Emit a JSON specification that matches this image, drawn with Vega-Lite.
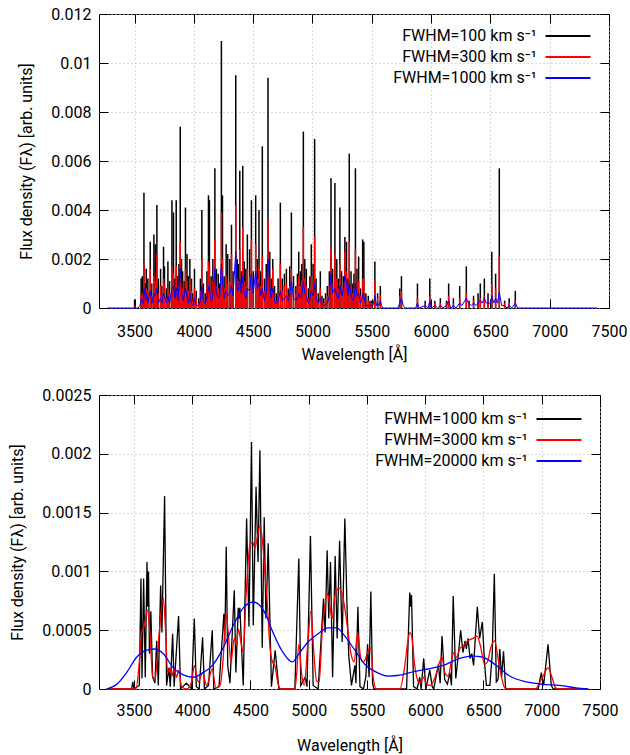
{
  "$schema": "https://vega.github.io/schema/vega-lite/v6.json",
  "padding": {"left": 9, "top": 5, "right": 22, "bottom": 0},
  "background": "white",
  "config": {
    "font": "Roboto",
    "view": {"stroke": "black", "strokeWidth": 1},
    "axis": {
      "labelFont": "Roboto", "titleFont": "Roboto", "labelFontSize": 16, "titleFontSize": 16,
      "titleFontWeight": "normal", "labelColor": "black", "titleColor": "black",
      "tickColor": "black", "tickSize": -9, "tickWidth": 1, "domain": false, "labelFlush": false,
      "gridColor": "#b4b4b4", "gridDash": [1, 3], "gridWidth": 1
    },
    "axisX": {"labelPadding": 22, "titlePadding": 8},
    "axisY": {"labelPadding": 17, "titlePadding": 16},
    "legend": {
      "title": null, "symbolType": "M-2.5,0H2.5", "symbolSize": 324,
      "symbolStrokeWidth": 2, "labelAlign": "right", "labelOffset": -41.5, "labelFontSize": 16,
      "labelFont": "Roboto", "labelColor": "black", "rowPadding": 3, "padding": 4, "labelLimit": 300
    }
  },
  "datasets": {
    "topSpikes": [
      {"wl":3500,"black":0.00035,"red":0.0001},{"wl":3555,"black":0.0012,"red":0.0005},{"wl":3565,"black":0.0013,"red":0.0006},
      {"wl":3579,"black":0.0047,"red":0.0018},{"wl":3590,"black":0.0010,"red":0.0006},{"wl":3598,"black":0.0016,"red":0.0008},
      {"wl":3612,"black":0.0012,"red":0.0007},{"wl":3632,"black":0.0027,"red":0.0016},{"wl":3645,"black":0.0010,"red":0.0005},
      {"wl":3663,"black":0.0030,"red":0.0013},{"wl":3674,"black":0.0026,"red":0.0011},{"wl":3688,"black":0.0042,"red":0.0022},
      {"wl":3700,"black":0.0012,"red":0.0006},{"wl":3719,"black":0.0016,"red":0.0009},{"wl":3730,"black":0.0009,"red":0.0005},
      {"wl":3744,"black":0.0025,"red":0.0012},{"wl":3752,"black":0.0017,"red":0.0010},{"wl":3768,"black":0.0008,"red":0.0004},
      {"wl":3781,"black":0.0019,"red":0.0008},{"wl":3795,"black":0.0011,"red":0.0006},{"wl":3815,"black":0.0044,"red":0.0017},
      {"wl":3828,"black":0.0039,"red":0.0014},{"wl":3840,"black":0.0012,"red":0.0006},{"wl":3851,"black":0.0044,"red":0.0017},
      {"wl":3862,"black":0.0013,"red":0.0007},{"wl":3874,"black":0.0018,"red":0.0009},{"wl":3885,"black":0.0074,"red":0.0027},
      {"wl":3896,"black":0.0020,"red":0.0010},{"wl":3905,"black":0.0015,"red":0.0008},{"wl":3918,"black":0.0011,"red":0.0006},
      {"wl":3929,"black":0.0041,"red":0.0016},{"wl":3942,"black":0.0022,"red":0.0011},{"wl":3953,"black":0.0013,"red":0.0007},
      {"wl":3966,"black":0.0020,"red":0.0012},{"wl":3980,"black":0.0012,"red":0.0007},{"wl":3990,"black":0.0006,"red":0.0003},
      {"wl":4005,"black":0.0016,"red":0.0008},{"wl":4020,"black":0.0007,"red":0.0004},{"wl":4040,"black":0.0004,"red":0.0002},
      {"wl":4055,"black":0.0012,"red":0.0007},{"wl":4067,"black":0.0040,"red":0.0020},{"wl":4080,"black":0.0010,"red":0.0006},
      {"wl":4095,"black":0.0006,"red":0.0003},{"wl":4110,"black":0.0015,"red":0.0009},{"wl":4123,"black":0.0046,"red":0.0019},
      {"wl":4131,"black":0.0044,"red":0.0017},{"wl":4145,"black":0.0013,"red":0.0007},{"wl":4160,"black":0.0020,"red":0.0011},
      {"wl":4177,"black":0.0057,"red":0.0028},{"wl":4190,"black":0.0016,"red":0.0009},{"wl":4205,"black":0.0014,"red":0.0008},
      {"wl":4218,"black":0.0010,"red":0.0006},{"wl":4232,"black":0.0109,"red":0.0039},{"wl":4241,"black":0.0046,"red":0.0020},
      {"wl":4255,"black":0.0013,"red":0.0008},{"wl":4272,"black":0.0026,"red":0.0013},{"wl":4285,"black":0.0022,"red":0.0010},
      {"wl":4303,"black":0.0020,"red":0.0011},{"wl":4317,"black":0.0034,"red":0.0022},{"wl":4330,"black":0.0015,"red":0.0010},
      {"wl":4353,"black":0.0095,"red":0.0042},{"wl":4365,"black":0.0020,"red":0.0012},{"wl":4375,"black":0.0018,"red":0.0011},
      {"wl":4387,"black":0.0056,"red":0.0024},{"wl":4400,"black":0.0015,"red":0.0010},{"wl":4412,"black":0.0058,"red":0.0033},
      {"wl":4425,"black":0.0019,"red":0.0011},{"wl":4438,"black":0.0016,"red":0.0009},{"wl":4451,"black":0.0030,"red":0.0016},
      {"wl":4470,"black":0.0024,"red":0.0013},{"wl":4485,"black":0.0044,"red":0.0028},{"wl":4500,"black":0.0015,"red":0.0009},
      {"wl":4521,"black":0.0046,"red":0.0026},{"wl":4535,"black":0.0020,"red":0.0012},{"wl":4549,"black":0.0040,"red":0.0017},
      {"wl":4563,"black":0.0015,"red":0.0009},{"wl":4577,"black":0.0066,"red":0.0021},{"wl":4595,"black":0.0012,"red":0.0007},
      {"wl":4610,"black":0.0018,"red":0.0011},{"wl":4625,"black":0.0094,"red":0.0036},{"wl":4640,"black":0.0023,"red":0.0013},
      {"wl":4652,"black":0.0012,"red":0.0007},{"wl":4665,"black":0.0020,"red":0.0016},{"wl":4680,"black":0.0009,"red":0.0006},
      {"wl":4695,"black":0.0006,"red":0.0003},{"wl":4710,"black":0.0012,"red":0.0006},{"wl":4729,"black":0.0043,"red":0.0018},
      {"wl":4745,"black":0.0012,"red":0.0007},{"wl":4763,"black":0.0014,"red":0.0009},{"wl":4780,"black":0.0016,"red":0.0010},
      {"wl":4795,"black":0.0008,"red":0.0005},{"wl":4808,"black":0.0017,"red":0.0009},{"wl":4822,"black":0.0039,"red":0.0016},
      {"wl":4840,"black":0.0013,"red":0.0008},{"wl":4860,"black":0.0009,"red":0.0006},{"wl":4873,"black":0.0014,"red":0.0009},
      {"wl":4884,"black":0.0023,"red":0.0013},{"wl":4898,"black":0.0015,"red":0.0009},{"wl":4910,"black":0.0018,"red":0.0011},
      {"wl":4923,"black":0.0072,"red":0.0033},{"wl":4935,"black":0.0020,"red":0.0012},{"wl":4948,"black":0.0016,"red":0.0009},
      {"wl":4965,"black":0.0008,"red":0.0004},{"wl":4978,"black":0.0013,"red":0.0008},{"wl":4990,"black":0.0026,"red":0.0013},
      {"wl":5005,"black":0.0018,"red":0.0010},{"wl":5018,"black":0.0069,"red":0.0029},{"wl":5030,"black":0.0012,"red":0.0007},
      {"wl":5048,"black":0.0006,"red":0.0003},{"wl":5066,"black":0.0015,"red":0.0008},{"wl":5080,"black":0.0005,"red":0.0003},
      {"wl":5095,"black":0.0004,"red":0.0002},{"wl":5110,"black":0.0006,"red":0.0004},{"wl":5125,"black":0.0009,"red":0.0005},
      {"wl":5142,"black":0.0015,"red":0.0009},{"wl":5156,"black":0.0053,"red":0.0025},{"wl":5170,"black":0.0016,"red":0.0010},
      {"wl":5189,"black":0.0051,"red":0.0022},{"wl":5205,"black":0.0020,"red":0.0012},{"wl":5218,"black":0.0012,"red":0.0008},
      {"wl":5231,"black":0.0041,"red":0.0018},{"wl":5245,"black":0.0015,"red":0.0009},{"wl":5260,"black":0.0013,"red":0.0008},
      {"wl":5273,"black":0.0029,"red":0.0023},{"wl":5287,"black":0.0027,"red":0.0015},{"wl":5298,"black":0.0012,"red":0.0008},
      {"wl":5310,"black":0.0063,"red":0.0027},{"wl":5325,"black":0.0015,"red":0.0009},{"wl":5340,"black":0.0010,"red":0.0006},
      {"wl":5350,"black":0.0014,"red":0.0008},{"wl":5362,"black":0.0057,"red":0.0024},{"wl":5375,"black":0.0016,"red":0.0010},
      {"wl":5389,"black":0.0021,"red":0.0011},{"wl":5405,"black":0.0008,"red":0.0005},{"wl":5423,"black":0.0028,"red":0.0012},
      {"wl":5433,"black":0.0027,"red":0.0012},{"wl":5450,"black":0.0006,"red":0.0003},{"wl":5470,"black":0.0005,"red":0.0003},
      {"wl":5485,"black":0.0003,"red":0.0002},{"wl":5500,"black":0.0003,"red":0.0002},{"wl":5526,"black":0.0019,"red":0.0011},
      {"wl":5549,"black":0.0006,"red":0.0004},{"wl":5572,"black":0.0009,"red":0.0005},{"wl":5736,"black":0.0008,"red":0.0005},
      {"wl":5750,"black":0.0013,"red":0.0007},{"wl":5885,"black":0.0010,"red":0.0004},{"wl":5950,"black":0.0003,"red":0.0002},
      {"wl":5989,"black":0.0012,"red":0.0005},{"wl":6031,"black":0.0003,"red":0.0002},{"wl":6078,"black":0.0004,"red":0.0002},
      {"wl":6130,"black":0.0003,"red":0.0002},{"wl":6148,"black":0.0010,"red":0.0005},{"wl":6188,"black":0.0004,"red":0.0002},
      {"wl":6241,"black":0.0009,"red":0.0004},{"wl":6297,"black":0.0017,"red":0.0006},{"wl":6320,"black":0.0003,"red":0.0002},
      {"wl":6358,"black":0.0005,"red":0.0003},{"wl":6396,"black":0.0006,"red":0.0003},{"wl":6415,"black":0.0010,"red":0.0004},
      {"wl":6449,"black":0.0012,"red":0.0005},{"wl":6480,"black":0.0006,"red":0.0003},{"wl":6512,"black":0.0023,"red":0.0010},
      {"wl":6544,"black":0.0014,"red":0.0008},{"wl":6575,"black":0.0057,"red":0.0021},{"wl":6620,"black":0.0003,"red":0.0002},
      {"wl":6658,"black":0.0004,"red":0.0002},{"wl":6710,"black":0.0007,"red":0.0003}
    ],
    "topBlue": [
      {"wl":3270,"flux":0},{"wl":3530,"flux":0},{"wl":3545,"flux":0.0001},{"wl":3560,"flux":0.0004},{"wl":3572,"flux":0.0002},
      {"wl":3580,"flux":0.0008},{"wl":3592,"flux":0.0003},{"wl":3600,"flux":0.0006},{"wl":3612,"flux":0.0002},{"wl":3632,"flux":0.0007},
      {"wl":3645,"flux":0.0002},{"wl":3663,"flux":0.0006},{"wl":3675,"flux":0.0005},{"wl":3688,"flux":0.0008},{"wl":3700,"flux":0.0002},
      {"wl":3719,"flux":0.0004},{"wl":3730,"flux":0.0002},{"wl":3744,"flux":0.0006},{"wl":3752,"flux":0.0005},{"wl":3768,"flux":0.0002},
      {"wl":3781,"flux":0.0005},{"wl":3795,"flux":0.0002},{"wl":3815,"flux":0.0008},{"wl":3828,"flux":0.0009},{"wl":3840,"flux":0.0004},
      {"wl":3851,"flux":0.0008},{"wl":3865,"flux":0.0003},{"wl":3885,"flux":0.0016},{"wl":3898,"flux":0.0006},{"wl":3910,"flux":0.0003},
      {"wl":3929,"flux":0.0008},{"wl":3942,"flux":0.0005},{"wl":3955,"flux":0.0002},{"wl":3966,"flux":0.0006},{"wl":3980,"flux":0.0002},
      {"wl":3992,"flux":0.0001},{"wl":4005,"flux":0.0004},{"wl":4020,"flux":0.0001},{"wl":4040,"flux":0.0001},{"wl":4055,"flux":0.0003},
      {"wl":4067,"flux":0.0009},{"wl":4080,"flux":0.0003},{"wl":4095,"flux":0.0002},{"wl":4110,"flux":0.0004},{"wl":4125,"flux":0.0009},
      {"wl":4138,"flux":0.0005},{"wl":4150,"flux":0.0003},{"wl":4160,"flux":0.0005},{"wl":4177,"flux":0.0016},{"wl":4190,"flux":0.0006},
      {"wl":4205,"flux":0.0004},{"wl":4218,"flux":0.0005},{"wl":4232,"flux":0.0018},{"wl":4243,"flux":0.0010},{"wl":4255,"flux":0.0004},
      {"wl":4272,"flux":0.0007},{"wl":4285,"flux":0.0005},{"wl":4303,"flux":0.0006},{"wl":4317,"flux":0.0009},{"wl":4330,"flux":0.0005},
      {"wl":4353,"flux":0.0023},{"wl":4365,"flux":0.0008},{"wl":4375,"flux":0.0007},{"wl":4387,"flux":0.0012},{"wl":4400,"flux":0.0006},
      {"wl":4412,"flux":0.0013},{"wl":4425,"flux":0.0006},{"wl":4438,"flux":0.0004},{"wl":4451,"flux":0.0008},{"wl":4470,"flux":0.0007},
      {"wl":4485,"flux":0.0014},{"wl":4500,"flux":0.0006},{"wl":4521,"flux":0.0015},{"wl":4535,"flux":0.0008},{"wl":4549,"flux":0.0010},
      {"wl":4563,"flux":0.0005},{"wl":4577,"flux":0.0008},{"wl":4595,"flux":0.0003},{"wl":4610,"flux":0.0006},{"wl":4625,"flux":0.0020},
      {"wl":4640,"flux":0.0009},{"wl":4652,"flux":0.0004},{"wl":4665,"flux":0.0008},{"wl":4685,"flux":0.0002},{"wl":4700,"flux":0.0002},
      {"wl":4710,"flux":0.0003},{"wl":4729,"flux":0.0007},{"wl":4745,"flux":0.0003},{"wl":4763,"flux":0.0004},{"wl":4780,"flux":0.0005},
      {"wl":4795,"flux":0.0003},{"wl":4808,"flux":0.0005},{"wl":4822,"flux":0.0011},{"wl":4840,"flux":0.0004},{"wl":4860,"flux":0.0003},
      {"wl":4873,"flux":0.0004},{"wl":4884,"flux":0.0006},{"wl":4898,"flux":0.0004},{"wl":4910,"flux":0.0005},{"wl":4923,"flux":0.0011},
      {"wl":4935,"flux":0.0006},{"wl":4948,"flux":0.0005},{"wl":4965,"flux":0.0002},{"wl":4978,"flux":0.0004},{"wl":4990,"flux":0.0007},
      {"wl":5005,"flux":0.0005},{"wl":5018,"flux":0.0010},{"wl":5030,"flux":0.0004},{"wl":5048,"flux":0.0002},{"wl":5066,"flux":0.0004},
      {"wl":5080,"flux":0.0001},{"wl":5100,"flux":0.0001},{"wl":5125,"flux":0.0002},{"wl":5142,"flux":0.0005},{"wl":5156,"flux":0.0014},
      {"wl":5170,"flux":0.0006},{"wl":5189,"flux":0.0008},{"wl":5205,"flux":0.0005},{"wl":5218,"flux":0.0004},{"wl":5231,"flux":0.0009},
      {"wl":5250,"flux":0.0005},{"wl":5273,"flux":0.0013},{"wl":5287,"flux":0.0010},{"wl":5298,"flux":0.0005},{"wl":5310,"flux":0.0010},
      {"wl":5325,"flux":0.0005},{"wl":5340,"flux":0.0003},{"wl":5350,"flux":0.0004},{"wl":5362,"flux":0.0010},{"wl":5375,"flux":0.0005},
      {"wl":5389,"flux":0.0006},{"wl":5405,"flux":0.0002},{"wl":5428,"flux":0.0006},{"wl":5450,"flux":0.0001},{"wl":5470,"flux":0.0001},
      {"wl":5490,"flux":0.0001},{"wl":5510,"flux":0.0001},{"wl":5526,"flux":0.0005},{"wl":5540,"flux":0.0001},{"wl":5549,"flux":0.0002},
      {"wl":5560,"flux":0.0001},{"wl":5572,"flux":0.0003},{"wl":5590,"flux":0},{"wl":5720,"flux":0},{"wl":5736,"flux":0.0002},
      {"wl":5750,"flux":0.0004},{"wl":5765,"flux":0.0001},{"wl":5780,"flux":0},{"wl":5870,"flux":0},{"wl":5885,"flux":0.0002},
      {"wl":5900,"flux":0},{"wl":5950,"flux":0.0001},{"wl":5975,"flux":0},{"wl":5989,"flux":0.0003},{"wl":6005,"flux":0},
      {"wl":6031,"flux":0.0001},{"wl":6055,"flux":0},{"wl":6078,"flux":0.0001},{"wl":6100,"flux":0},{"wl":6130,"flux":0.0001},
      {"wl":6148,"flux":0.0003},{"wl":6165,"flux":0},{"wl":6188,"flux":0.0001},{"wl":6210,"flux":0},{"wl":6241,"flux":0.0002},
      {"wl":6260,"flux":0.0001},{"wl":6297,"flux":0.0004},{"wl":6315,"flux":0.0002},{"wl":6340,"flux":0.0001},{"wl":6358,"flux":0.0002},
      {"wl":6380,"flux":0.0001},{"wl":6396,"flux":0.0002},{"wl":6415,"flux":0.0003},{"wl":6430,"flux":0.0002},{"wl":6449,"flux":0.0004},
      {"wl":6465,"flux":0.0002},{"wl":6480,"flux":0.0002},{"wl":6500,"flux":0.0002},{"wl":6512,"flux":0.0005},{"wl":6528,"flux":0.0002},
      {"wl":6544,"flux":0.0004},{"wl":6560,"flux":0.0002},{"wl":6575,"flux":0.00065},{"wl":6595,"flux":0.0001},{"wl":6620,"flux":0.0001},
      {"wl":6640,"flux":0},{"wl":6658,"flux":0.0001},{"wl":6680,"flux":0},{"wl":6710,"flux":0.0002},{"wl":6730,"flux":0},{"wl":7400,"flux":0}
    ],
    "botBlack": [
      {"wl":3266,"flux":0},{"wl":3480,"flux":0},{"wl":3490,"flux":0.00006},{"wl":3500,"flux":0},{"wl":3546,"flux":0.00003},
      {"wl":3560,"flux":0.00094},{"wl":3569,"flux":0.00009},{"wl":3583,"flux":0.00094},{"wl":3597,"flux":0.0001},{"wl":3612,"flux":0.00108},
      {"wl":3618,"flux":0.0007},{"wl":3625,"flux":0.001},{"wl":3633,"flux":0.0003},{"wl":3645,"flux":0.00066},{"wl":3660,"flux":0.0001},
      {"wl":3680,"flux":0.00005},{"wl":3695,"flux":0.00041},{"wl":3709,"flux":0.00003},{"wl":3729,"flux":0.00088},{"wl":3740,"flux":0.00048},
      {"wl":3763,"flux":0.00164},{"wl":3780,"flux":0.00003},{"wl":3800,"flux":0.00018},{"wl":3812,"flux":0.00002},{"wl":3832,"flux":0.00047},
      {"wl":3845,"flux":0.00002},{"wl":3883,"flux":0.00062},{"wl":3900,"flux":0},{"wl":3950,"flux":0.00005},{"wl":3995,"flux":0},
      {"wl":4018,"flux":0.0006},{"wl":4035,"flux":0.00002},{"wl":4060,"flux":0},{"wl":4089,"flux":0.00044},{"wl":4105,"flux":0},
      {"wl":4140,"flux":0.00003},{"wl":4172,"flux":0.0005},{"wl":4185,"flux":0},{"wl":4230,"flux":0.00002},{"wl":4272,"flux":0.00064},
      {"wl":4280,"flux":0.0004},{"wl":4292,"flux":0.00121},{"wl":4305,"flux":0.0002},{"wl":4324,"flux":0.00005},{"wl":4361,"flux":0.00084},
      {"wl":4375,"flux":0.00014},{"wl":4395,"flux":0.00069},{"wl":4402,"flux":0.0006},{"wl":4409,"flux":0.00069},{"wl":4438,"flux":0.00003},
      {"wl":4467,"flux":0.00145},{"wl":4487,"flux":0.00053},{"wl":4509,"flux":0.0021},{"wl":4524,"flux":0.00054},{"wl":4548,"flux":0.00172},
      {"wl":4565,"flux":0.00108},{"wl":4581,"flux":0.00203},{"wl":4601,"flux":0.00035},{"wl":4618,"flux":0.00146},{"wl":4633,"flux":0.0006},
      {"wl":4652,"flux":0.00124},{"wl":4680,"flux":0.00002},{"wl":4712,"flux":0.00033},{"wl":4744,"flux":0},{"wl":4881,"flux":0},
      {"wl":4915,"flux":0.00111},{"wl":4932,"flux":0.00003},{"wl":4970,"flux":0.0001},{"wl":4985,"flux":0.00002},{"wl":5015,"flux":0.0013},
      {"wl":5038,"flux":0.00003},{"wl":5081,"flux":0},{"wl":5127,"flux":0.00077},{"wl":5141,"flux":0.00048},{"wl":5158,"flux":0.00118},
      {"wl":5172,"flux":0.0006},{"wl":5187,"flux":0.00108},{"wl":5205,"flux":0.0001},{"wl":5227,"flux":0.00113},{"wl":5244,"flux":0.00043},
      {"wl":5265,"flux":0.00126},{"wl":5287,"flux":0.0004},{"wl":5310,"flux":0.00145},{"wl":5330,"flux":0.00065},{"wl":5344,"flux":0.00028},
      {"wl":5367,"flux":0.00003},{"wl":5396,"flux":0.0002},{"wl":5405,"flux":0.00005},{"wl":5422,"flux":0.0007},{"wl":5440,"flux":0.00002},
      {"wl":5470,"flux":0},{"wl":5490,"flux":0.0001},{"wl":5505,"flux":0.00038},{"wl":5518,"flux":0.0001},{"wl":5533,"flux":0.00083},
      {"wl":5548,"flux":0.00005},{"wl":5560,"flux":0},{"wl":5840,"flux":0},{"wl":5867,"flux":0.00082},{"wl":5874,"flux":0.0007},
      {"wl":5882,"flux":0.0008},{"wl":5900,"flux":0.00002},{"wl":5930,"flux":0},{"wl":5953,"flux":0.0001},{"wl":5965,"flux":0},
      {"wl":5987,"flux":0.00026},{"wl":6005,"flux":0},{"wl":6039,"flux":0.00016},{"wl":6060,"flux":0.00002},{"wl":6073,"flux":0},
      {"wl":6113,"flux":0.00021},{"wl":6128,"flux":0.00005},{"wl":6144,"flux":0.00045},{"wl":6167,"flux":0.00008},{"wl":6190,"flux":0.00004},
      {"wl":6212,"flux":0.00014},{"wl":6225,"flux":0.00003},{"wl":6240,"flux":0.00079},{"wl":6262,"flux":0.00009},{"wl":6285,"flux":0.0003},
      {"wl":6304,"flux":0.0005},{"wl":6324,"flux":0.00031},{"wl":6342,"flux":0.00041},{"wl":6353,"flux":0.00034},{"wl":6367,"flux":0.00043},
      {"wl":6385,"flux":0.00026},{"wl":6400,"flux":0.0003},{"wl":6415,"flux":0.0002},{"wl":6447,"flux":0.0007},{"wl":6467,"flux":0.00043},
      {"wl":6490,"flux":0.00057},{"wl":6510,"flux":0.00021},{"wl":6525,"flux":0.00003},{"wl":6555,"flux":0.00003},{"wl":6575,"flux":0.0003},
      {"wl":6593,"flux":0.00098},{"wl":6610,"flux":0.00006},{"wl":6625,"flux":0.00008},{"wl":6640,"flux":0.00034},{"wl":6655,"flux":0.0001},
      {"wl":6672,"flux":0.00032},{"wl":6690,"flux":0},{"wl":6970,"flux":0},{"wl":6982,"flux":0.00007},{"wl":6996,"flux":0.00014},
      {"wl":7016,"flux":0.00003},{"wl":7054,"flux":0.00038},{"wl":7082,"flux":0.00003},{"wl":7100,"flux":0},{"wl":7400,"flux":0}
    ],
    "botRed": [
      {"wl":3266,"flux":0},{"wl":3517,"flux":0},{"wl":3546,"flux":0.00023},{"wl":3566,"flux":0.00048},{"wl":3589,"flux":0.00054},
      {"wl":3615,"flux":0.00067},{"wl":3637,"flux":0.00048},{"wl":3660,"flux":0.00011},{"wl":3680,"flux":0.00008},{"wl":3700,"flux":0.00026},
      {"wl":3717,"flux":0.00048},{"wl":3752,"flux":0.00077},{"wl":3772,"flux":0.00048},{"wl":3789,"flux":0.00014},{"wl":3809,"flux":0.00018},
      {"wl":3826,"flux":0.00011},{"wl":3843,"flux":0.00017},{"wl":3866,"flux":0.0001},{"wl":3883,"flux":0.00016},{"wl":3909,"flux":0.00002},
      {"wl":3952,"flux":0},{"wl":3995,"flux":0.00006},{"wl":4018,"flux":0.0002},{"wl":4052,"flux":0.00006},{"wl":4089,"flux":0.00014},
      {"wl":4124,"flux":0.00003},{"wl":4172,"flux":0.00017},{"wl":4203,"flux":0.00001},{"wl":4238,"flux":0.00003},{"wl":4266,"flux":0.00026},
      {"wl":4289,"flux":0.00064},{"wl":4309,"flux":0.00048},{"wl":4332,"flux":0.00023},{"wl":4361,"flux":0.00043},{"wl":4381,"flux":0.00037},
      {"wl":4395,"flux":0.00051},{"wl":4418,"flux":0.0004},{"wl":4438,"flux":0.00031},{"wl":4461,"flux":0.00077},{"wl":4495,"flux":0.00122},
      {"wl":4518,"flux":0.00125},{"wl":4538,"flux":0.0012},{"wl":4561,"flux":0.0013},{"wl":4581,"flux":0.00139},{"wl":4601,"flux":0.00128},
      {"wl":4624,"flux":0.00099},{"wl":4646,"flux":0.00071},{"wl":4666,"flux":0.00037},{"wl":4689,"flux":0.00023},{"wl":4709,"flux":0.0002},
      {"wl":4738,"flux":0.00004},{"wl":4761,"flux":0},{"wl":4881,"flux":0},{"wl":4895,"flux":0.00011},{"wl":4915,"flux":0.00038},
      {"wl":4938,"flux":0.00014},{"wl":4961,"flux":0.00003},{"wl":4995,"flux":0.00043},{"wl":5018,"flux":0.00066},{"wl":5044,"flux":0.00031},
      {"wl":5067,"flux":0.00007},{"wl":5090,"flux":0.00006},{"wl":5115,"flux":0.00048},{"wl":5138,"flux":0.00071},{"wl":5161,"flux":0.00081},
      {"wl":5181,"flux":0.00071},{"wl":5201,"flux":0.0006},{"wl":5224,"flux":0.00079},{"wl":5261,"flux":0.00086},{"wl":5295,"flux":0.00077},
      {"wl":5315,"flux":0.00065},{"wl":5338,"flux":0.00048},{"wl":5361,"flux":0.00031},{"wl":5390,"flux":0.00023},{"wl":5420,"flux":0.00048},
      {"wl":5447,"flux":0.00026},{"wl":5470,"flux":0.00023},{"wl":5496,"flux":0.00028},{"wl":5516,"flux":0.00034},{"wl":5533,"flux":0.00035},
      {"wl":5553,"flux":0.0001},{"wl":5581,"flux":0},{"wl":5782,"flux":0},{"wl":5825,"flux":0.0002},{"wl":5850,"flux":0.0004},
      {"wl":5867,"flux":0.00048},{"wl":5882,"flux":0.00046},{"wl":5910,"flux":0.0002},{"wl":5933,"flux":0.00008},{"wl":5953,"flux":0.00005},
      {"wl":5987,"flux":0.0001},{"wl":6010,"flux":0.00004},{"wl":6039,"flux":0.00003},{"wl":6081,"flux":0.00009},{"wl":6124,"flux":0.00023},
      {"wl":6144,"flux":0.00027},{"wl":6167,"flux":0.00014},{"wl":6196,"flux":0.00011},{"wl":6224,"flux":0.00023},{"wl":6244,"flux":0.00031},
      {"wl":6267,"flux":0.00027},{"wl":6296,"flux":0.00034},{"wl":6330,"flux":0.00037},{"wl":6367,"flux":0.00041},{"wl":6410,"flux":0.00043},
      {"wl":6445,"flux":0.00045},{"wl":6473,"flux":0.00037},{"wl":6510,"flux":0.00021},{"wl":6533,"flux":0.00023},{"wl":6568,"flux":0.00037},
      {"wl":6596,"flux":0.00041},{"wl":6625,"flux":0.00026},{"wl":6653,"flux":0.00011},{"wl":6682,"flux":0.00001},{"wl":6700,"flux":0},
      {"wl":6950,"flux":0},{"wl":6968,"flux":0.00003},{"wl":7011,"flux":0.00011},{"wl":7054,"flux":0.00018},{"wl":7091,"flux":0.00009},
      {"wl":7119,"flux":0.00001},{"wl":7140,"flux":0},{"wl":7400,"flux":0}
    ],
    "botBlue": [
      {"wl":3266,"flux":0},{"wl":3352,"flux":0.00004},{"wl":3437,"flux":0.00014},{"wl":3523,"flux":0.00027},{"wl":3609,"flux":0.00033},
      {"wl":3680,"flux":0.00034},{"wl":3752,"flux":0.0003},{"wl":3838,"flux":0.00018},{"wl":3923,"flux":0.00012},{"wl":4009,"flux":0.0001},
      {"wl":4095,"flux":0.00014},{"wl":4181,"flux":0.00021},{"wl":4266,"flux":0.00035},{"wl":4352,"flux":0.00054},{"wl":4438,"flux":0.00069},
      {"wl":4524,"flux":0.00074},{"wl":4581,"flux":0.00071},{"wl":4638,"flux":0.00062},{"wl":4681,"flux":0.00051},{"wl":4767,"flux":0.00033},
      {"wl":4860,"flux":0.00023},{"wl":4909,"flux":0.00029},{"wl":4995,"flux":0.0004},{"wl":5081,"flux":0.00047},{"wl":5167,"flux":0.00052},
      {"wl":5238,"flux":0.00052},{"wl":5310,"flux":0.00045},{"wl":5396,"flux":0.00033},{"wl":5481,"flux":0.00021},{"wl":5567,"flux":0.00015},
      {"wl":5681,"flux":0.00011},{"wl":5796,"flux":0.00012},{"wl":5910,"flux":0.00015},{"wl":6025,"flux":0.00017},{"wl":6153,"flux":0.0002},
      {"wl":6296,"flux":0.00026},{"wl":6410,"flux":0.00028},{"wl":6496,"flux":0.00027},{"wl":6610,"flux":0.0002},{"wl":6725,"flux":0.00011},
      {"wl":6868,"flux":0.00006},{"wl":7011,"flux":0.00004},{"wl":7154,"flux":0.00003},{"wl":7297,"flux":0.00001},{"wl":7390,"flux":0}
    ]
  },
  "concat": [
    {
      "width": 510, "height": 294,
      "layer": [
        {
          "data": {"name": "topSpikes"},
          "mark": {"type": "rule", "strokeWidth": 1.5},
          "encoding": {
            "x": {"field": "wl", "type": "quantitative", "scale": {"domain": [3200, 7500], "nice": false},
                  "axis": {"values": [3500, 4000, 4500, 5000, 5500, 6000, 6500, 7000, 7500], "format": "d", "title": "Wavelength [Å]", "grid": true, "labelPadding": 24, "titlePadding": 7}},
            "y": {"field": "black", "type": "quantitative", "scale": {"domain": [0, 0.012], "nice": false},
                  "axis": {"values": [0, 0.002, 0.004, 0.006, 0.008, 0.01, 0.012], "format": "~g", "title": "Flux density (Fλ) [arb. units]", "grid": true}},
            "y2": {"datum": 0},
            "color": {"datum": "FWHM=100 km s⁻¹", "type": "nominal",
                      "scale": {"domain": ["FWHM=100 km s⁻¹", "FWHM=300 km s⁻¹", "FWHM=1000 km s⁻¹"], "range": ["black", "red", "blue"]},
                      "legend": {"orient": "none", "legendX": 455, "legendY": 8}}
          }
        },
        {
          "data": {"name": "topSpikes"},
          "mark": {"type": "rule", "strokeWidth": 1.5},
          "encoding": {
            "x": {"field": "wl", "type": "quantitative", "axis": null},
            "y": {"field": "red", "type": "quantitative", "axis": null},
            "y2": {"datum": 0},
            "color": {"datum": "FWHM=300 km s⁻¹", "type": "nominal"}
          }
        },
        {
          "data": {"name": "topBlue"},
          "mark": {"type": "line", "strokeWidth": 1},
          "encoding": {
            "x": {"field": "wl", "type": "quantitative",
                  "axis": {"orient": "top", "labels": false, "title": null, "grid": false, "minExtent": 0, "values": [3500, 4000, 4500, 5000, 5500, 6000, 6500, 7000, 7500]}},
            "y": {"field": "flux", "type": "quantitative",
                  "axis": {"orient": "right", "labels": false, "title": null, "grid": false, "minExtent": 0, "values": [0, 0.002, 0.004, 0.006, 0.008, 0.01, 0.012]}},
            "color": {"datum": "FWHM=1000 km s⁻¹", "type": "nominal"}
          }
        }
      ],
      "resolve": {"axis": {"x": "independent", "y": "independent"}}
    },
    {
      "width": 501, "height": 294,
      "layer": [
        {
          "data": {"name": "botBlack"},
          "mark": {"type": "line", "strokeWidth": 1.3},
          "encoding": {
            "x": {"field": "wl", "type": "quantitative", "scale": {"domain": [3200, 7500], "nice": false},
                  "axis": {"values": [3500, 4000, 4500, 5000, 5500, 6000, 6500, 7000, 7500], "format": "d", "title": "Wavelength [Å]", "grid": true, "titlePadding": 19}},
            "y": {"field": "flux", "type": "quantitative", "scale": {"domain": [0, 0.0025], "nice": false},
                  "axis": {"values": [0, 0.0005, 0.001, 0.0015, 0.002, 0.0025], "format": "~g", "title": "Flux density (Fλ) [arb. units]", "grid": true}},
            "color": {"datum": "FWHM=1000 km s⁻¹", "type": "nominal",
                      "scale": {"domain": ["FWHM=1000 km s⁻¹", "FWHM=3000 km s⁻¹", "FWHM=20000 km s⁻¹"], "range": ["black", "red", "blue"]},
                      "legend": {"orient": "none", "legendX": 446, "legendY": 10}}
          }
        },
        {
          "data": {"name": "botRed"},
          "mark": {"type": "line", "strokeWidth": 1.3, "interpolate": "monotone"},
          "encoding": {
            "x": {"field": "wl", "type": "quantitative", "axis": null},
            "y": {"field": "flux", "type": "quantitative", "axis": null},
            "color": {"datum": "FWHM=3000 km s⁻¹", "type": "nominal"}
          }
        },
        {
          "data": {"name": "botBlue"},
          "mark": {"type": "line", "strokeWidth": 1.3, "interpolate": "monotone"},
          "encoding": {
            "x": {"field": "wl", "type": "quantitative",
                  "axis": {"orient": "top", "labels": false, "title": null, "grid": false, "minExtent": 0, "values": [3500, 4000, 4500, 5000, 5500, 6000, 6500, 7000, 7500]}},
            "y": {"field": "flux", "type": "quantitative",
                  "axis": {"orient": "right", "labels": false, "title": null, "grid": false, "minExtent": 0, "values": [0, 0.0005, 0.001, 0.0015, 0.002, 0.0025]}},
            "color": {"datum": "FWHM=20000 km s⁻¹", "type": "nominal"}
          }
        }
      ],
      "resolve": {"axis": {"x": "independent", "y": "independent"}}
    }
  ],
  "columns": 1,
  "align": "none",
  "spacing": 23,
  "resolve": {"scale": {"color": "independent"}, "legend": {"color": "independent"}}
}
